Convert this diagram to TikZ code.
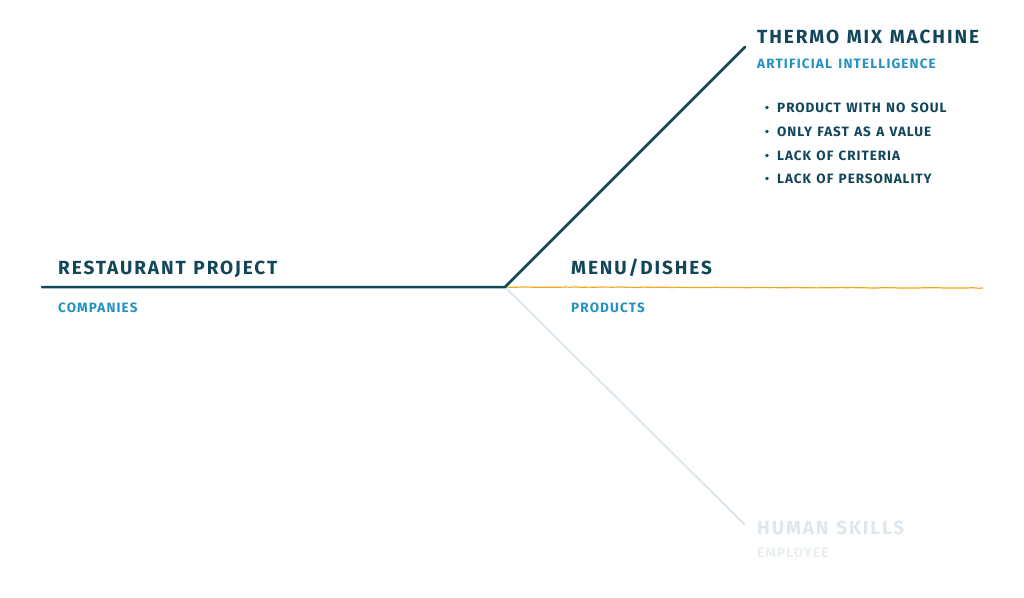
\documentclass[tikz,border=0pt]{standalone}
\usepackage{fontspec}
\setmainfont{Fira Sans}
\newfontfamily\handfont[LetterSpace=10, WordSpace=1.2]{Fira Sans}
\newfontfamily\subfont[LetterSpace=8.5, WordSpace=1.5]{Fira Sans}
\newfontfamily\itemfont[LetterSpace=7, WordSpace=1.3]{Fira Sans}
\usepackage{xcolor}
\usetikzlibrary{decorations.pathmorphing}
\definecolor{navy}{HTML}{12465A}
\definecolor{sky}{HTML}{2392C2}
\definecolor{amber}{HTML}{F3A81C}
\definecolor{ghost}{HTML}{DCE9EF}
\definecolor{ghosttext}{HTML}{DFE7EC}
\definecolor{ghostsub}{HTML}{E8EFF3}

\begin{document}
\begin{tikzpicture}[x=1pt, y=-1pt,
  head/.style={font=\handfont\fontsize{19}{20}\selectfont\bfseries, text=navy, anchor=base west, inner sep=0pt},
  sub/.style={font=\subfont\fontsize{13.5}{14}\selectfont\bfseries, text=sky, anchor=base west, inner sep=0pt},
  item/.style={font=\itemfont\fontsize{13.5}{14}\selectfont\bfseries, text=navy, anchor=base west, inner sep=0pt}]
  \useasboundingbox (0,0) rectangle (1024,597);
  % spine and branches
  \coordinate (tail) at (42,287);
  \coordinate (hub) at (505,287);
  \coordinate (tip) at (745,47);
  \coordinate (fade) at (745,525);
  \coordinate (end) at (983,288);
  \draw[ghost, line width=2pt] (hub) -- (fade);
  \draw[amber, line width=1.2pt, decorate, decoration={random steps, segment length=6pt, amplitude=0.25pt}] (hub) -- (end);
  \draw[navy, line width=2.5pt, line join=round, line cap=round] (tail) -- (hub) -- (tip);
  % Left: project
  \node[head] (project) at (58,274) {RESTAURANT PROJECT};
  \node[sub] (companies) at (58,312) {COMPANIES};
  % Middle: menu
  \node[head] (menu) at (571,274) {MENU/DISHES};
  \node[sub] (products) at (571,312) {PRODUCTS};
  % Top: machine
  \node[head] (machine) at (757,43) {THERMO MIX MACHINE};
  \node[sub] (ai) at (757,68) {ARTIFICIAL INTELLIGENCE};
  \node[item] (soul) at (777,112) {PRODUCT WITH NO SOUL};
  \node[item] (fast) at (777,136) {ONLY FAST AS A VALUE};
  \node[item] (criteria) at (777,160) {LACK OF CRITERIA};
  \node[item] (personality) at (777,183) {LACK OF PERSONALITY};
  \foreach \y in {107.5,131.5,155.5,178.5}
    \fill[navy] (767,\y) circle (1.8pt);
  % Bottom: human skills (faded)
  \node[head, text=ghosttext] (skills) at (757,534) {HUMAN SKILLS};
  \node[sub, text=ghostsub] (employee) at (757,557) {EMPLOYEE};
\end{tikzpicture}
\end{document}
